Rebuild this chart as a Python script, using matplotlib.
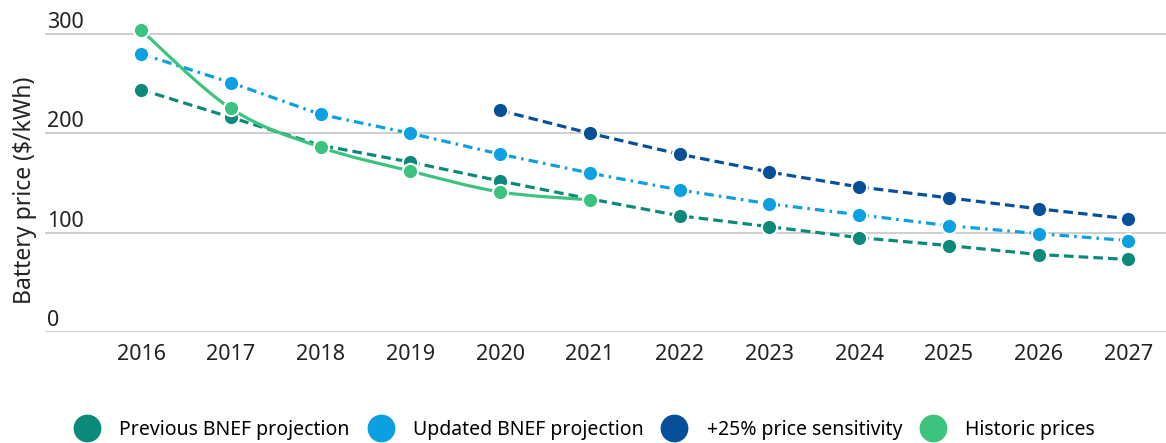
import numpy as np
import matplotlib.pyplot as plt
import matplotlib.transforms as mtransforms
from matplotlib.path import Path
from matplotlib.patches import PathPatch
from matplotlib.lines import Line2D

# data
years = [2016, 2017, 2018, 2019, 2020, 2021, 2022, 2023, 2024, 2025, 2026, 2027]
previous = [244, 216, 188, 171, 152, 134, 117, 106, 95, 87, 78, 73]
updated = [280, 251, 219, 200, 179, 160, 143, 129, 118, 107, 99, 92]
sens_years = [2020, 2021, 2022, 2023, 2024, 2025, 2026, 2027]
sensitivity = [223, 200, 179, 161, 146, 135, 124, 114]
hist_years = [2016, 2017, 2018, 2019, 2020, 2021]
historic = [304, 225, 186, 162, 141, 133]

labels = ['Previous BNEF projection', 'Updated BNEF projection',
          '+25% price sensitivity', 'Historic prices']
colors = ['#0b8a7a', '#0aa0e2', '#06509a', '#3cc47e']

plt.rcParams['font.family'] = ['Noto Sans', 'DejaVu Sans']

fig = plt.figure(figsize=(11.66, 4.43), dpi=100)
ax = fig.add_axes([45 / 1166, 1 - 332 / 443, 1 - 45 / 1166, (332 - 24) / 443])


def smooth_path(xs, ys, tension=0.5):
    # catmull-rom through the data points, drawn as bezier curves
    xs = np.asarray(xs, float)
    ys = np.asarray(ys, float)
    pts = np.column_stack([xs, ys])
    verts = [pts[0]]
    codes = [Path.MOVETO]
    n = len(pts)
    for i in range(n - 1):
        p0 = pts[i - 1] if i > 0 else pts[i]
        p1 = pts[i]
        p2 = pts[i + 1]
        p3 = pts[i + 2] if i + 2 < n else pts[i + 1]
        c1 = p1 + (p2 - p0) * tension / 3
        c2 = p2 - (p3 - p1) * tension / 3
        verts += [c1, c2, p2]
        codes += [Path.CURVE4] * 3
    return Path(verts, codes)


mk = dict(marker='o', markersize=11, markeredgecolor='white', markeredgewidth=1.5)

ax.plot(years, previous, color=colors[0], lw=2.3, dashes=(3, 1.6), **mk, zorder=3)
ax.plot(years, updated, color=colors[1], lw=2.3, dashes=(3, 1.6, 0.8, 1.6), **mk, zorder=4)
ax.plot(sens_years, sensitivity, color=colors[2], lw=2.3, dashes=(3, 1.6), **mk, zorder=5)
ax.add_patch(PathPatch(smooth_path(hist_years, historic), fill=False,
                       edgecolor=colors[3], lw=2.3, zorder=6))
ax.plot(hist_years, historic, color=colors[3], lw=0, **mk, zorder=7)

ax.set_xlim(2014.93, 2027.42)
ax.set_ylim(0, 310)
ax.set_xticks(years)
ax.set_xticklabels([str(y) for y in years])
ax.set_yticks([0, 100, 200, 300])
ax.grid(axis='y', color='#cccccc', lw=1.3)
ax.set_axisbelow(True)
for s in ax.spines.values():
    s.set_visible(False)
ax.tick_params(axis='both', length=0, labelsize=15.5, colors='#222222')
ax.tick_params(axis='x', pad=9)
ax.tick_params(axis='y', pad=0)

# y labels sit above the gridlines, left aligned
offset = mtransforms.ScaledTranslation(2 / 100, 14 / 100, fig.dpi_scale_trans)
for lab in ax.get_yticklabels():
    lab.set_horizontalalignment('left')
    lab.set_transform(lab.get_transform() + offset)

fig.text(25 / 1166, 1 - 190 / 443, 'Battery price ($/kWh)', rotation=90,
         ha='center', va='center', fontsize=16.5, color='#222222')

handles = [Line2D([], [], lw=0, marker='o', markersize=19, color=c) for c in colors]
fig.legend(handles, labels, loc='center', bbox_to_anchor=(585 / 1166, 1 - 430 / 443),
           ncol=4, frameon=False, fontsize=14, handletextpad=1.05,
           columnspacing=1.0, handlelength=1.2)

fig.savefig('out.png', dpi=100)
